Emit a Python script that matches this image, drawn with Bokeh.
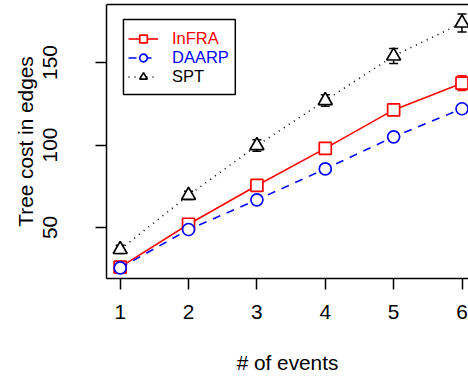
from bokeh.plotting import figure
from bokeh.models import (Range1d, FixedTicker, LinearAxis, Legend, LegendItem,
                          Whisker, ColumnDataSource, BoxAnnotation, TeeHead)
from bokeh.embed import file_html
from bokeh.resources import INLINE

events = [1, 2, 3, 4, 5, 6]
infra = [26.0, 52.0, 75.5, 98.0, 121.3, 137.5]
infra_err = [1.5, 2.0, 2.0, 2.5, 3.0, 4.5]
daarp = [25.5, 48.8, 66.8, 85.5, 105.0, 122.0]
daarp_err = [1.5, 2.0, 2.0, 2.0, 2.0, 2.5]
spt = [36.7, 69.5, 99.7, 127.0, 154.0, 174.0]
spt_err = [2.5, 2.5, 3.5, 3.5, 4.5, 5.5]
x_ticks = [1, 2, 3, 4, 5, 6]
y_ticks = [50, 100, 150]

FONT = "Liberation Sans"
FS = "20.8px"

p = figure(width=468, height=377, x_range=Range1d(0.8, 6.095), y_range=Range1d(19.1, 185.2),
           output_backend="svg", toolbar_location=None, x_axis_type=None, y_axis_type=None,
           min_border_left=106, min_border_right=0, min_border_top=4, min_border_bottom=99)
p.outline_line_color = None
p.background_fill_color = "white"
p.border_fill_color = "white"

def style_axis(ax):
    ax.axis_line_width = 1.5
    ax.axis_line_color = "black"
    ax.major_tick_line_width = 1.5
    ax.major_tick_line_color = "black"
    ax.major_tick_in = 0
    ax.major_tick_out = 11
    ax.minor_tick_line_color = None
    ax.major_label_text_font = FONT
    ax.major_label_text_font_size = FS
    ax.major_label_text_color = "black"
    ax.axis_label_text_font = FONT
    ax.axis_label_text_font_size = FS
    ax.axis_label_text_font_style = "normal"
    ax.axis_label_text_color = "black"

xax = LinearAxis(ticker=FixedTicker(ticks=x_ticks), axis_label="# of events")
style_axis(xax)
xax.major_label_standoff = 15
xax.axis_label_standoff = 29
p.add_layout(xax, "below")

yax = LinearAxis(ticker=FixedTicker(ticks=y_ticks), axis_label="Tree cost in edges")
style_axis(yax)
yax.major_label_orientation = "vertical"
yax.major_label_standoff = 38
yax.axis_label_standoff = 4
p.add_layout(yax, "left")

top = LinearAxis(ticker=FixedTicker(ticks=[]))
top.axis_line_width = 1.5
top.major_tick_out = 0
top.major_tick_in = 0
top.minor_tick_line_color = None
top.major_label_text_font_size = "0px"
top.major_label_standoff = 0
p.add_layout(top, "above")

series = [
    ("InFRA", infra, infra_err, "#ff0000", "solid", "square", 12),
    ("DAARP", daarp, daarp_err, "#0000ff", "8 7", "circle", 12),
    ("SPT", spt, spt_err, "black", "1 5", "triangle", 14),
]

legend_rows = [230, 211, 192]
for (name, ys, errs, color, dash, marker, size), row in zip(series, legend_rows):
    src = ColumnDataSource(dict(x=events, y=ys,
                                upper=[v + e for v, e in zip(ys, errs)],
                                lower=[v - e for v, e in zip(ys, errs)]))
    lr = p.line("x", "y", source=src, line_color=color, line_width=1.6, line_dash=dash)
    sr = p.scatter("x", "y", source=src, marker=marker, size=size, fill_color="white",
                   line_color=color, line_width=1.7)
    w = Whisker(source=src, base="x", upper="upper", lower="lower", line_color=color,
                line_width=1.5,
                upper_head=TeeHead(size=9, line_color=color, line_width=1.5),
                lower_head=TeeHead(size=9, line_color=color, line_width=1.5))
    p.add_layout(w)
    leg = Legend(items=[LegendItem(label=name, renderers=[lr, sr])], location=(22, row),
                 label_text_color=color, label_text_font=FONT, label_text_font_size="16.5px",
                 glyph_width=30, glyph_height=19, label_height=19, padding=0, margin=0,
                 spacing=0, label_standoff=14, border_line_alpha=0, background_fill_alpha=0)
    p.add_layout(leg, "center")

box = BoxAnnotation(left=1.048, right=2.684, top=176.1, bottom=130.6, fill_alpha=0,
                    line_color="black", line_width=1.5, line_alpha=1)
p.add_layout(box)

open("out.html", "w").write(file_html(p, INLINE))
